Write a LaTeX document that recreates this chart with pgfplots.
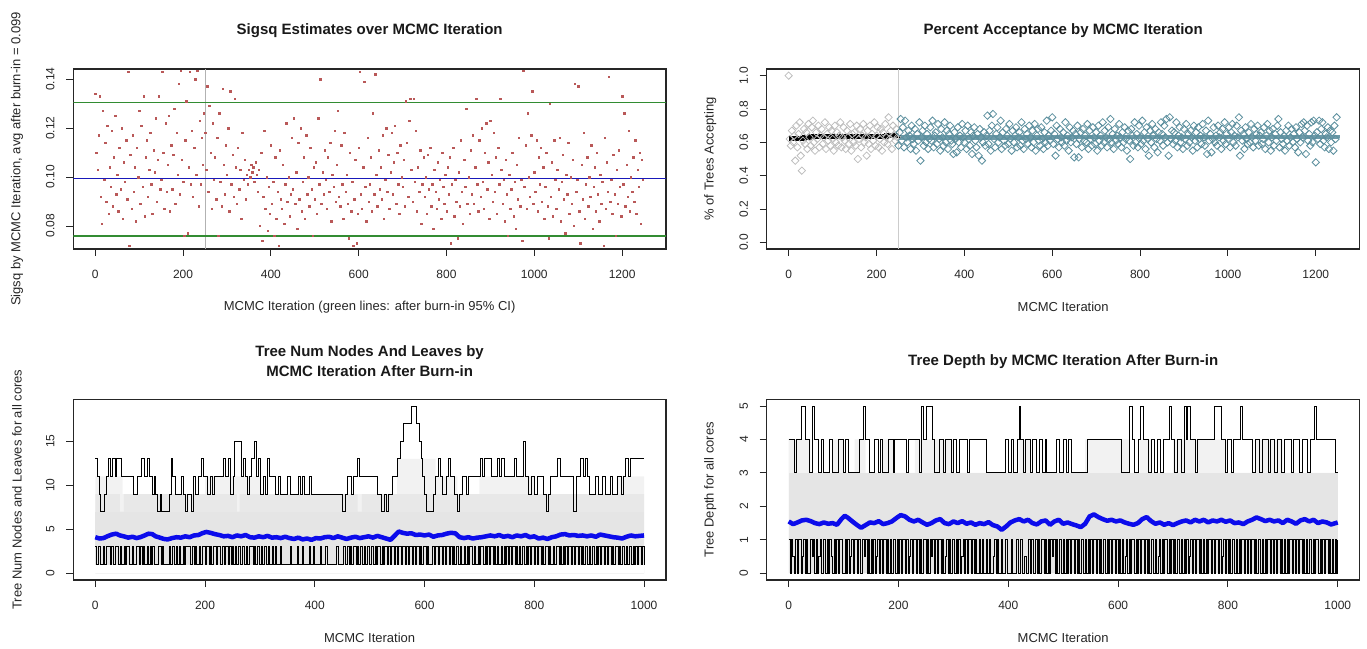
\documentclass[border=0pt]{standalone}
\usepackage{fontspec}
\setmainfont{Liberation Sans}
\usepackage{pgfplots}
\usepackage{pgfplotstable}
\pgfplotsset{compat=1.18}

\definecolor{sigred}{RGB}{185,88,88}
\definecolor{ablue}{RGB}{25,25,185}
\definecolor{agreen}{RGB}{50,140,50}
\definecolor{vgray}{RGB}{178,178,178}
\definecolor{pgray}{RGB}{188,188,188}
\definecolor{pteal}{RGB}{92,143,158}
\definecolor{band}{RGB}{229,229,229}
\definecolor{bandmd}{RGB}{232,232,232}
\definecolor{bandlt}{RGB}{242,242,242}
\definecolor{mblue}{RGB}{12,12,235}

% sigsq draws, one every 2.5 iterations
\pgfplotstableread[header=false,row sep=\\]{
0.134\\0.110\\0.103\\0.117\\0.133\\0.092\\0.081\\0.127\\0.099\\0.114\\
0.090\\0.121\\0.085\\0.104\\0.096\\0.119\\0.088\\0.108\\0.125\\0.093\\
0.101\\0.086\\0.112\\0.095\\0.120\\0.083\\0.106\\0.098\\0.115\\0.091\\
0.143\\0.072\\0.109\\0.087\\0.117\\0.094\\0.104\\0.082\\0.112\\0.100\\
0.127\\0.089\\0.121\\0.096\\0.133\\0.084\\0.108\\0.115\\0.092\\0.103\\
0.118\\0.097\\0.085\\0.111\\0.102\\0.124\\0.090\\0.107\\0.133\\0.095\\
0.099\\0.143\\0.110\\0.087\\0.122\\0.094\\0.105\\0.125\\0.086\\0.113\\
0.095\\0.109\\0.128\\0.089\\0.118\\0.101\\0.138\\0.093\\0.1435\\0.107\\
0.098\\0.076\\0.115\\0.131\\0.077\\0.104\\0.143\\0.097\\0.119\\0.092\\
0.112\\0.140\\0.101\\0.1435\\0.088\\0.123\\0.097\\0.116\\0.105\\0.126\\
0.118\\0.103\\0.137\\0.094\\0.129\\0.110\\0.087\\0.122\\0.099\\0.108\\
0.091\\0.116\\0.076\\0.126\\0.098\\0.088\\0.136\\0.105\\0.093\\0.113\\
0.101\\0.120\\0.086\\0.135\\0.097\\0.109\\0.092\\0.132\\0.104\\0.089\\
0.112\\0.095\\0.103\\0.083\\0.118\\0.099\\0.107\\0.091\\0.101\\0.097\\
0.103\\0.100\\0.105\\0.102\\0.104\\0.098\\0.106\\0.101\\0.094\\0.103\\
0.080\\0.110\\0.074\\0.092\\0.119\\0.087\\0.100\\0.078\\0.096\\0.085\\
0.113\\0.089\\0.098\\0.076\\0.108\\0.083\\0.094\\0.072\\0.111\\0.091\\
0.087\\0.105\\0.081\\0.097\\0.122\\0.090\\0.100\\0.084\\0.093\\0.116\\
0.095\\0.124\\0.089\\0.102\\0.079\\0.114\\0.091\\0.120\\0.086\\0.098\\
0.108\\0.083\\0.117\\0.093\\0.100\\0.088\\0.112\\0.095\\0.076\\0.104\\
0.091\\0.106\\0.085\\0.124\\0.097\\0.140\\0.089\\0.102\\0.093\\0.111\\
0.099\\0.087\\0.108\\0.094\\0.114\\0.082\\0.101\\0.096\\0.119\\0.090\\
0.105\\0.127\\0.092\\0.088\\0.113\\0.097\\0.083\\0.118\\0.094\\0.101\\
0.089\\0.075\\0.110\\0.086\\0.098\\0.072\\0.091\\0.107\\0.073\\0.085\\
0.112\\0.143\\0.093\\0.087\\0.104\\0.139\\0.096\\0.082\\0.116\\0.090\\
0.097\\0.108\\0.086\\0.126\\0.093\\0.142\\0.101\\0.088\\0.111\\0.095\\
0.104\\0.091\\0.117\\0.083\\0.099\\0.120\\0.094\\0.109\\0.087\\0.102\\
0.118\\0.093\\0.106\\0.121\\0.089\\0.110\\0.097\\0.085\\0.113\\0.100\\
0.096\\0.107\\0.088\\0.131\\0.114\\0.092\\0.123\\0.132\\0.103\\0.090\\
0.132\\0.098\\0.119\\0.086\\0.104\\0.094\\0.111\\0.081\\0.097\\0.108\\
0.092\\0.100\\0.085\\0.109\\0.095\\0.112\\0.088\\0.097\\0.079\\0.103\\
0.094\\0.087\\0.106\\0.091\\0.099\\0.083\\0.110\\0.096\\0.089\\0.101\\
0.086\\0.104\\0.093\\0.108\\0.073\\0.097\\0.112\\0.084\\0.099\\0.090\\
0.075\\0.102\\0.088\\0.115\\0.094\\0.081\\0.107\\0.096\\0.128\\0.089\\
0.100\\0.085\\0.111\\0.093\\0.117\\0.089\\0.104\\0.132\\0.097\\0.086\\
0.115\\0.092\\0.120\\0.098\\0.087\\0.110\\0.122\\0.095\\0.106\\0.083\\
0.123\\0.101\\0.090\\0.118\\0.094\\0.108\\0.085\\0.112\\0.097\\0.132\\
0.103\\0.089\\0.099\\0.082\\0.107\\0.093\\0.076\\0.101\\0.087\\0.095\\
0.110\\0.084\\0.098\\0.079\\0.105\\0.091\\0.116\\0.088\\0.099\\0.074\\
0.1435\\0.096\\0.113\\0.087\\0.126\\0.100\\0.092\\0.117\\0.135\\0.089\\
0.102\\0.094\\0.115\\0.086\\0.108\\0.097\\0.112\\0.090\\0.104\\0.083\\
0.096\\0.110\\0.088\\0.075\\0.130\\0.092\\0.106\\0.084\\0.115\\0.099\\
0.087\\0.103\\0.095\\0.116\\0.082\\0.098\\0.109\\0.091\\0.077\\0.101\\
0.093\\0.114\\0.085\\0.100\\0.089\\0.107\\0.080\\0.138\\0.094\\0.099\\
0.137\\0.086\\0.073\\0.105\\0.091\\0.118\\0.083\\0.097\\0.108\\0.088\\
0.100\\0.092\\0.113\\0.079\\0.096\\0.104\\0.086\\0.110\\0.093\\0.082\\
0.101\\0.089\\0.098\\0.072\\0.116\\0.087\\0.106\\0.094\\0.141\\0.090\\
0.099\\0.085\\0.109\\0.093\\0.076\\0.103\\0.089\\0.111\\0.096\\0.084\\
0.133\\0.097\\0.126\\0.088\\0.105\\0.092\\0.119\\0.086\\0.100\\0.094\\
0.108\\0.090\\0.115\\0.085\\0.103\\0.096\\0.110\\0.081\\0.107\\0.099\\
}\sigsqtab

% acceptance, burn-in (0-247.5) and after burn-in (250-1247.5), step 2.5
\pgfplotstableread[header=false,row sep=\\]{
1.00\\0.62\\0.58\\0.67\\0.60\\0.64\\0.49\\0.70\\0.57\\0.65\\
0.72\\0.52\\0.43\\0.61\\0.68\\0.59\\0.66\\0.56\\0.71\\0.63\\
0.58\\0.69\\0.73\\0.60\\0.55\\0.66\\0.62\\0.70\\0.57\\0.64\\
0.68\\0.59\\0.63\\0.72\\0.56\\0.65\\0.61\\0.69\\0.58\\0.67\\
0.62\\0.55\\0.70\\0.60\\0.66\\0.58\\0.64\\0.72\\0.57\\0.63\\
0.69\\0.61\\0.56\\0.67\\0.63\\0.59\\0.71\\0.55\\0.65\\0.60\\
0.66\\0.58\\0.70\\0.50\\0.62\\0.68\\0.57\\0.64\\0.71\\0.60\\
0.63\\0.52\\0.67\\0.59\\0.70\\0.56\\0.65\\0.61\\0.72\\0.58\\
0.64\\0.69\\0.57\\0.62\\0.68\\0.55\\0.66\\0.60\\0.71\\0.63\\
0.59\\0.75\\0.62\\0.67\\0.56\\0.70\\0.64\\0.61\\0.68\\0.63\\
}\accburn

\pgfplotstableread[header=false,row sep=\\]{
0.58\\0.66\\0.74\\0.61\\0.69\\0.57\\0.73\\0.63\\0.60\\0.67\\
0.64\\0.56\\0.70\\0.62\\0.59\\0.68\\0.55\\0.65\\0.61\\0.72\\
0.49\\0.63\\0.67\\0.58\\0.70\\0.60\\0.65\\0.56\\0.62\\0.69\\
0.61\\0.73\\0.57\\0.64\\0.66\\0.59\\0.71\\0.62\\0.55\\0.68\\
0.63\\0.58\\0.72\\0.60\\0.67\\0.56\\0.65\\0.70\\0.61\\0.59\\
0.53\\0.66\\0.62\\0.54\\0.69\\0.60\\0.64\\0.57\\0.71\\0.63\\
0.60\\0.67\\0.56\\0.70\\0.62\\0.58\\0.66\\0.53\\0.64\\0.69\\
0.61\\0.57\\0.65\\0.52\\0.68\\0.63\\0.49\\0.60\\0.66\\0.58\\
0.64\\0.76\\0.59\\0.67\\0.55\\0.70\\0.77\\0.62\\0.57\\0.65\\
0.69\\0.60\\0.63\\0.73\\0.56\\0.66\\0.61\\0.58\\0.68\\0.64\\
0.59\\0.71\\0.62\\0.55\\0.67\\0.60\\0.64\\0.69\\0.57\\0.63\\
0.66\\0.58\\0.72\\0.61\\0.56\\0.68\\0.62\\0.65\\0.59\\0.70\\
0.63\\0.57\\0.67\\0.60\\0.71\\0.55\\0.64\\0.68\\0.61\\0.58\\
0.69\\0.62\\0.56\\0.66\\0.60\\0.73\\0.58\\0.64\\0.61\\0.67\\
0.75\\0.59\\0.65\\0.52\\0.70\\0.62\\0.57\\0.68\\0.63\\0.60\\
0.66\\0.58\\0.72\\0.61\\0.64\\0.55\\0.69\\0.60\\0.63\\0.67\\
0.51\\0.65\\0.59\\0.70\\0.51\\0.62\\0.66\\0.57\\0.68\\0.61\\
0.64\\0.60\\0.71\\0.56\\0.67\\0.62\\0.58\\0.69\\0.63\\0.59\\
0.66\\0.55\\0.70\\0.61\\0.64\\0.58\\0.72\\0.60\\0.67\\0.63\\
0.57\\0.69\\0.62\\0.74\\0.60\\0.65\\0.56\\0.68\\0.61\\0.64\\
0.59\\0.71\\0.63\\0.57\\0.66\\0.60\\0.69\\0.62\\0.55\\0.67\\
0.61\\0.50\\0.68\\0.64\\0.58\\0.72\\0.60\\0.65\\0.57\\0.70\\
0.63\\0.59\\0.73\\0.61\\0.66\\0.56\\0.69\\0.62\\0.52\\0.67\\
0.60\\0.71\\0.64\\0.57\\0.68\\0.62\\0.54\\0.66\\0.61\\0.72\\
0.65\\0.58\\0.70\\0.63\\0.74\\0.60\\0.52\\0.75\\0.62\\0.67\\
0.59\\0.66\\0.61\\0.72\\0.57\\0.64\\0.69\\0.60\\0.63\\0.56\\
0.68\\0.62\\0.71\\0.58\\0.65\\0.60\\0.67\\0.63\\0.55\\0.70\\
0.61\\0.66\\0.57\\0.69\\0.62\\0.64\\0.59\\0.71\\0.63\\0.58\\
0.67\\0.53\\0.73\\0.61\\0.65\\0.54\\0.62\\0.69\\0.60\\0.64\\
0.58\\0.70\\0.63\\0.66\\0.56\\0.68\\0.61\\0.72\\0.59\\0.65\\
0.62\\0.69\\0.57\\0.66\\0.71\\0.60\\0.64\\0.58\\0.70\\0.63\\
0.75\\0.52\\0.67\\0.61\\0.65\\0.56\\0.69\\0.62\\0.59\\0.66\\
0.60\\0.71\\0.63\\0.57\\0.68\\0.61\\0.65\\0.70\\0.58\\0.64\\
0.66\\0.59\\0.62\\0.69\\0.56\\0.64\\0.71\\0.60\\0.67\\0.55\\
0.63\\0.68\\0.58\\0.65\\0.61\\0.70\\0.74\\0.57\\0.66\\0.62\\
0.59\\0.64\\0.55\\0.67\\0.61\\0.70\\0.58\\0.63\\0.68\\0.60\\
0.65\\0.57\\0.69\\0.62\\0.54\\0.66\\0.60\\0.71\\0.63\\0.72\\
0.67\\0.53\\0.70\\0.61\\0.65\\0.58\\0.72\\0.60\\0.73\\0.64\\
0.48\\0.66\\0.62\\0.73\\0.59\\0.68\\0.72\\0.61\\0.57\\0.65\\
0.63\\0.69\\0.56\\0.67\\0.60\\0.66\\0.55\\0.70\\0.62\\0.75\\
}\accpost

% min num nodes+leaves, step 2.5
\pgfplotstableread[header=false,row sep=\\]{
3\\1\\3\\3\\1\\1\\3\\1\\3\\3\\3\\1\\3\\1\\1\\3\\3\\1\\3\\1\\
1\\3\\1\\3\\3\\1\\1\\3\\1\\1\\3\\3\\1\\3\\1\\3\\1\\1\\3\\1\\
3\\1\\3\\1\\1\\1\\3\\3\\1\\3\\1\\1\\1\\1\\3\\1\\3\\3\\1\\3\\
1\\3\\1\\1\\3\\1\\3\\3\\3\\1\\1\\3\\1\\3\\1\\1\\3\\1\\3\\3\\
1\\3\\3\\1\\3\\1\\3\\3\\1\\3\\3\\1\\1\\3\\1\\3\\3\\1\\3\\1\\
3\\1\\3\\1\\3\\3\\1\\3\\3\\1\\3\\1\\3\\3\\3\\1\\3\\1\\3\\3\\
1\\3\\1\\3\\3\\1\\3\\1\\1\\3\\1\\3\\1\\1\\1\\3\\1\\1\\1\\1\\
1\\1\\3\\1\\1\\1\\1\\3\\1\\1\\1\\3\\1\\1\\1\\1\\3\\1\\1\\3\\
1\\1\\1\\1\\3\\1\\1\\1\\3\\1\\1\\1\\1\\1\\1\\1\\3\\1\\1\\1\\
1\\3\\1\\1\\3\\1\\3\\1\\3\\3\\1\\3\\1\\3\\3\\1\\3\\1\\3\\3\\
1\\3\\3\\1\\3\\1\\3\\3\\1\\3\\1\\3\\3\\1\\3\\1\\3\\3\\1\\3\\
1\\3\\3\\1\\3\\3\\1\\3\\1\\3\\3\\1\\3\\1\\3\\3\\1\\3\\1\\3\\
3\\1\\3\\1\\1\\1\\3\\1\\3\\3\\1\\3\\3\\1\\3\\1\\3\\3\\1\\3\\
1\\3\\1\\3\\3\\1\\3\\1\\1\\3\\1\\3\\1\\3\\3\\1\\3\\1\\1\\3\\
1\\3\\3\\1\\3\\1\\3\\1\\3\\3\\1\\3\\1\\3\\1\\1\\3\\1\\3\\1\\
3\\1\\3\\1\\3\\3\\1\\3\\1\\3\\1\\3\\3\\1\\3\\1\\3\\1\\3\\3\\
1\\3\\1\\3\\3\\1\\3\\1\\3\\3\\1\\3\\1\\1\\3\\1\\3\\3\\1\\3\\
1\\3\\1\\3\\1\\3\\3\\1\\3\\1\\3\\3\\1\\3\\1\\3\\1\\3\\3\\1\\
3\\1\\3\\3\\1\\3\\1\\3\\1\\3\\3\\1\\3\\1\\3\\3\\1\\3\\1\\3\\
3\\1\\3\\1\\3\\3\\1\\3\\1\\3\\3\\1\\3\\1\\3\\1\\3\\3\\1\\3\\
1\\
}\nodemin

% min tree depth, step 2.5
\pgfplotstableread[header=false,row sep=\\]{
1\\0\\1\\0.5\\0\\1\\0\\1\\1\\0\\0.5\\1\\0\\1\\0\\0\\1\\0.5\\1\\0\\
1\\0\\0.5\\1\\0\\1\\1\\0\\1\\0\\1\\0.5\\0\\1\\0\\1\\0\\1\\1\\0\\
0\\1\\0\\1\\0\\0.5\\1\\0\\1\\1\\0\\1\\0\\0\\1\\0.5\\1\\0\\1\\0\\
1\\0\\1\\0\\0.5\\1\\0\\1\\0\\1\\1\\0\\1\\0\\1\\0\\1\\1\\0\\1\\
0\\1\\0\\1\\1\\0\\1\\0\\0.5\\1\\0\\1\\1\\0\\1\\0\\1\\0\\1\\1\\
0\\1\\0\\1\\0.5\\1\\0\\1\\0\\1\\1\\0\\1\\0\\0.5\\1\\0\\1\\0\\1\\
1\\0\\1\\0\\1\\0\\0.5\\1\\0\\1\\0\\1\\1\\0\\1\\0\\1\\0\\0\\1\\
0\\1\\0\\0\\1\\0\\1\\0\\0\\0.5\\1\\0\\1\\0\\0\\1\\0\\0\\1\\0\\
0\\0\\1\\0\\0\\0\\1\\0\\0\\1\\0\\0\\0.5\\0\\0\\1\\0\\1\\0\\0\\
1\\0\\1\\0\\1\\1\\0\\1\\0\\1\\0\\1\\0.5\\1\\0\\1\\0\\1\\1\\0\\
1\\0\\1\\0\\1\\0\\1\\1\\0\\1\\0\\1\\0\\1\\1\\0\\1\\0\\1\\0\\
1\\0\\1\\1\\0\\1\\0\\1\\0\\1\\1\\0\\1\\0\\1\\0\\1\\1\\0\\1\\
0\\1\\0\\1\\0\\0.5\\1\\0\\1\\0\\1\\1\\0\\1\\0\\1\\0\\1\\1\\0\\
1\\0\\1\\0\\1\\1\\0\\1\\0\\0.5\\1\\0\\1\\0\\1\\1\\0\\1\\0\\1\\
0\\1\\0\\1\\1\\0\\1\\0\\1\\0\\1\\0\\0.5\\1\\0\\1\\0\\1\\1\\0\\
1\\0\\1\\0\\1\\0\\1\\1\\0\\1\\0\\1\\1\\0\\1\\0\\0.5\\1\\0\\1\\
0\\1\\0\\1\\1\\0\\1\\0\\1\\0\\1\\1\\0\\1\\0\\1\\0\\1\\1\\0\\
1\\0\\1\\1\\0\\1\\0\\1\\0\\1\\1\\0\\1\\0\\1\\0\\1\\1\\0\\1\\
0\\1\\0\\1\\0\\1\\1\\0\\1\\0\\1\\0\\1\\1\\0\\1\\0\\1\\0\\1\\
1\\0\\1\\0\\1\\1\\0\\1\\0\\1\\0\\1\\1\\0\\1\\0\\1\\0\\1\\0\\
1\\
}\depthmin

\pgfplotsset{
  rplot/.style={
    scale only axis, width=593pt, height=180pt,
    enlargelimits=false,
    axis line style={line width=1.1pt, black!85},
    tick align=outside, tick pos=left, major tick length=7pt,
    every tick/.style={black!85, line width=0.9pt},
    /pgf/number format/assume math mode=true,
    /pgf/number format/1000 sep={},
    tick label style={font=\fontsize{12}{14}\selectfont, text=black!85, inner sep=0pt},
    xticklabel style={anchor=north},
    xticklabel shift=13.5pt,
    yticklabel style={rotate=90, anchor=south},
    yticklabel shift=11.5pt,
    label style={font=\fontsize{13}{15}\selectfont, text=black!85},
    xlabel style={at={(axis description cs:0.5,0)}, anchor=center, yshift=-58pt},
    ylabel style={at={(axis description cs:-0.095,0.5)}, anchor=center},
    title style={at={(axis description cs:0.5,1)}, anchor=center, yshift=32pt,
      font=\bfseries\fontsize{15}{20}\selectfont, align=center, text=black!90},
  },
}

\begin{document}
\begin{tikzpicture}
\useasboundingbox (0,0) rectangle (1367pt,648pt);

% ---- sigsq ----
\begin{axis}[rplot, at={(73.3pt,399pt)}, anchor=south west, width=592.7pt,
  xmin=-50, xmax=1300, ymin=0.0706, ymax=0.1441,
  xtick={0,200,...,1200},
  ytick={0.08,0.10,0.12,0.14},
  yticklabel style={/pgf/number format/.cd, fixed, fixed zerofill, precision=2},
  title={Sigsq Estimates over MCMC Iteration},
  xlabel={MCMC Iteration (green lines: after burn-in 95\% CI)},
  ylabel={Sigsq by MCMC Iteration, avg after burn-in = 0.099}]
\addplot[only marks, mark=square*, mark size=0.72pt, sigred]
  table[x expr=\coordindex*2.5, y index=0] {\sigsqtab};
\addplot[vgray, line width=0.9pt] coordinates {(250,0.0706) (250,0.1441)};
\addplot[ablue, line width=1pt] coordinates {(-50,0.0992) (1300,0.0992)};
\addplot[agreen, line width=1.2pt] coordinates {(-50,0.0759) (1300,0.0759)};
\addplot[agreen, line width=1.2pt] coordinates {(-50,0.1303) (1300,0.1303)};
\end{axis}

% ---- acceptance ----
\begin{axis}[rplot, at={(766.7pt,399pt)}, anchor=south west,
  xmin=-50, xmax=1300, ymin=-0.04, ymax=1.04,
  xtick={0,200,...,1200},
  ytick={0,0.2,...,1.0},
  yticklabel style={/pgf/number format/.cd, fixed, fixed zerofill, precision=1},
  title={Percent Acceptance by MCMC Iteration},
  xlabel={MCMC Iteration},
  ylabel={\% of Trees Accepting}]
\addplot[only marks, mark=square, mark size=2.6pt, mark options={rotate=45, line width=0.75pt}, pgray]
  table[x expr=\coordindex*2.5, y index=0] {\accburn};
\addplot[only marks, mark=square, mark size=2.6pt, mark options={rotate=45, line width=0.8pt}, pteal]
  table[x expr=250+\coordindex*2.5, y index=0] {\accpost};
\addplot[const plot, pteal!90!white, line width=4.5pt] coordinates
  {(250,0.628) (400,0.630) (600,0.631) (800,0.633) (1000,0.632) (1250,0.630)};
\addplot[const plot, black, line width=5pt] coordinates
  {(0,0.622) (35,0.627) (48,0.632) (185,0.637) (222,0.643) (250,0.645)};
\addplot[gray!40, line width=1.6pt] coordinates {(250,-0.04) (250,1.04)};
\end{axis}

% ---- num nodes and leaves ----
\begin{axis}[rplot, at={(73.3pt,68pt)}, anchor=south west, width=592.7pt, height=180.7pt,
  xmin=-40, xmax=1040, ymin=-0.76, ymax=19.76,
  xtick={0,200,...,1000},
  ytick={0,5,10,15},
  title={Tree Num Nodes And Leaves by\\MCMC Iteration After Burn-in},
  xlabel={MCMC Iteration},
  ylabel={Tree Num Nodes and Leaves for all cores}]
\addplot[const plot, fill=bandlt, draw=none] coordinates
  {(0,11) (50,9) (200,11) (300,9) (550,13) (620,11) (660,9) (700,11) (800,9) (950,11) (1000,11)} \closedcycle;
\addplot[const plot, fill=bandmd, draw=none] coordinates
  {(0,9) (45,7) (52,9) (170,7) (176,9) (258,7) (263,9) (478,7) (486,9) (1000,9)} \closedcycle;
\addplot[fill=band, draw=none] coordinates {(0,7) (1000,7)} \closedcycle;
\addplot[fill=white, draw=none] coordinates {(0,1) (1000,1)} \closedcycle;
\addplot[const plot, black, line width=0.8pt]
  table[x expr=\coordindex*2.5, y index=0] {\nodemin};
\addplot[const plot, black, line width=0.9pt] coordinates {
(0,13) (4,11) (7,9) (10,7) (17,9) (20,11) (24,13) (28,11) (31,13) (36,11) (38,13) (48,11)
(62,11) (70,9) (76,11) (84,13) (90,11) (96,13) (99,11) (104,9) (108,11) (110,9) (114,7)
(118,9) (121,7) (135,9) (138,13) (140,11) (147,9) (157,11) (161,9) (165,7) (168,9) (176,7)
(179,11) (183,9) (188,11) (194,13) (198,11) (205,9) (210,11) (214,9) (217,11) (233,13)
(237,11) (242,13) (246,9) (251,11) (254,15) (266,11) (270,13) (274,11) (278,9) (281,11)
(285,13) (290,15) (293,11) (297,13) (301,9) (306,11) (310,9) (314,13) (318,11) (328,9)
(333,11) (338,9) (350,11) (356,9) (370,11) (373,9) (378,11) (382,9) (390,11) (394,9)
(451,7) (455,9) (460,11) (466,9) (470,11) (478,13) (482,11) (514,9) (522,7) (527,9)
(531,7) (535,9) (542,11) (551,13) (557,15) (562,17) (576,19) (586,17) (591,15) (594,13)
(597,11) (600,9) (604,7) (616,9) (620,11) (625,13) (629,11) (633,9) (640,11) (644,13)
(648,11) (655,9) (660,7) (664,9) (670,11) (676,9) (680,11) (702,13) (706,11) (710,13)
(722,11) (733,13) (737,11) (741,13) (746,11) (764,13) (768,11) (780,15) (783,11) (790,9)
(795,11) (800,9) (805,11) (816,9) (822,7) (826,9) (830,11) (843,13) (848,11) (872,7)
(876,11) (885,13) (889,11) (893,13) (897,11) (901,9) (912,11) (916,9) (924,11) (930,9)
(939,11) (943,9) (951,11) (958,9) (962,11) (967,13) (972,11) (976,13) (1000,13)};
\addplot[mblue, line width=4.5pt, line join=round] coordinates {
(0,4.1) (8,3.95) (15,4.0) (22,4.2) (30,4.4) (38,4.5) (45,4.3) (52,4.2) (60,4.05) (68,4.15)
(75,4.0) (82,4.1) (90,4.3) (97,4.5) (104,4.45) (110,4.2) (118,4.05) (125,3.9) (132,3.85)
(140,4.0) (148,4.1) (156,4.05) (164,4.2) (172,4.1) (180,4.3) (188,4.35) (195,4.55) (202,4.7)
(210,4.6) (218,4.45) (226,4.35) (234,4.2) (242,4.25) (250,4.1) (258,4.3) (266,4.2) (274,4.35)
(282,4.1) (290,4.05) (298,4.2) (306,4.1) (314,4.25) (322,4.05) (330,4.1) (338,4.0) (346,4.15)
(354,4.0) (362,3.9) (370,4.05) (378,3.85) (386,3.95) (394,3.8) (402,4.0) (410,3.95) (418,4.1)
(426,4.15) (434,4.0) (442,4.2) (450,4.05) (458,3.9) (466,4.05) (474,4.15) (482,4.0) (490,4.1)
(498,4.2) (506,4.05) (514,4.25) (522,4.1) (530,3.95) (538,3.8) (546,4.3) (553,4.75) (560,4.6)
(568,4.5) (576,4.55) (584,4.35) (592,4.4) (600,4.3) (608,4.4) (616,4.15) (624,4.3) (632,4.35)
(640,4.5) (648,4.6) (656,4.55) (664,4.1) (672,4.0) (680,4.1) (688,3.95) (696,4.05) (704,4.1)
(712,4.2) (720,4.3) (728,4.2) (736,4.35) (744,4.15) (752,4.25) (760,4.1) (768,4.3) (776,4.2)
(784,4.35) (792,4.1) (800,4.2) (808,3.95) (816,4.05) (824,3.9) (832,4.1) (840,4.2) (848,4.4)
(856,4.45) (864,4.3) (872,4.35) (880,4.25) (888,4.3) (896,4.2) (904,4.3) (912,4.15) (920,4.4)
(928,4.3) (936,4.2) (944,4.1) (952,4.05) (960,3.95) (968,4.15) (976,4.3) (984,4.2) (992,4.25)
(1000,4.3)};
\end{axis}

% ---- tree depth ----
\begin{axis}[rplot, at={(766.7pt,68pt)}, anchor=south west, height=180.7pt,
  xmin=-40, xmax=1040, ymin=-0.2, ymax=5.2,
  xtick={0,200,...,1000},
  ytick={0,1,...,5},
  title={Tree Depth by MCMC Iteration After Burn-in},
  xlabel={MCMC Iteration},
  ylabel={Tree Depth for all cores}]
\addplot[const plot, fill=bandlt, draw=none] coordinates
  {(0,4) (40,3) (80,4) (100,3) (120,4) (140,3) (170,4) (190,3) (230,4) (300,3) (420,4) (440,3)
   (540,4) (620,3) (640,4) (660,3) (700,4) (800,3) (850,4) (900,3) (1000,3)} \closedcycle;
\addplot[fill=band, draw=none] coordinates {(0,3) (1000,3)} \closedcycle;
\addplot[const plot, black, line width=0.8pt]
  table[x expr=\coordindex*2.5, y index=0] {\depthmin};
\addplot[const plot, black, line width=0.9pt] coordinates {
(0,4) (10,3) (14,4) (24,5) (30,4) (37,3) (44,5) (47,4) (55,3) (59,4) (64,3) (74,4) (79,3)
(91,4) (99,3) (103,4) (108,3) (129,4) (137,5) (139,4) (148,3) (157,4) (163,3) (168,4)
(171,3) (182,4) (190,3) (193,4) (214,3) (219,4) (238,3) (241,5) (245,4) (251,5) (261,4)
(266,3) (274,4) (282,3) (285,4) (296,3) (300,4) (305,3) (311,4) (326,3) (330,4) (361,3)
(395,4) (400,3) (405,4) (410,3) (416,4) (420,5) (422,4) (427,3) (432,4) (440,3) (444,4)
(451,3) (456,4) (462,3) (467,4) (470,3) (487,4) (493,3) (500,4) (505,3) (510,4) (515,3)
(545,4) (606,3) (620,5) (626,4) (630,3) (637,4) (641,5) (646,4) (655,3) (660,4) (666,3)
(672,4) (677,3) (682,4) (694,5) (697,4) (703,3) (708,4) (716,3) (720,5) (724,4) (727,5)
(731,4) (740,3) (744,4) (775,5) (789,4) (795,3) (800,4) (806,3) (810,4) (823,5) (826,4)
(845,3) (850,4) (858,3) (862,4) (873,3) (878,4) (885,3) (890,4) (898,3) (903,4) (915,3)
(920,4) (930,3) (935,4) (945,3) (950,4) (958,5) (961,4) (995,3) (1000,3)};
\addplot[mblue, line width=4.5pt, line join=round] coordinates {
(0,1.55) (8,1.47) (16,1.52) (24,1.58) (32,1.6) (40,1.56) (48,1.5) (56,1.47) (64,1.52) (72,1.48)
(80,1.5) (88,1.45) (96,1.62) (102,1.72) (108,1.66) (116,1.55) (124,1.45) (132,1.36) (140,1.44)
(148,1.52) (156,1.5) (164,1.56) (172,1.47) (180,1.5) (188,1.55) (196,1.65) (204,1.74) (212,1.7)
(220,1.6) (228,1.55) (236,1.6) (244,1.52) (252,1.45) (260,1.5) (268,1.58) (276,1.62) (284,1.5)
(292,1.47) (300,1.55) (308,1.5) (316,1.56) (324,1.48) (332,1.52) (340,1.45) (348,1.5) (356,1.47)
(364,1.53) (372,1.44) (380,1.4) (388,1.3) (396,1.4) (404,1.52) (412,1.58) (420,1.62) (428,1.55)
(436,1.6) (444,1.5) (452,1.46) (460,1.55) (468,1.58) (476,1.45) (484,1.55) (492,1.6) (500,1.48)
(508,1.52) (516,1.47) (524,1.43) (532,1.38) (540,1.48) (548,1.7) (556,1.76) (564,1.68) (572,1.62)
(580,1.57) (588,1.6) (596,1.55) (604,1.58) (612,1.52) (620,1.48) (628,1.45) (636,1.5) (644,1.62)
(652,1.68) (660,1.56) (668,1.48) (676,1.52) (684,1.45) (692,1.5) (700,1.44) (708,1.5) (716,1.55)
(724,1.58) (732,1.52) (740,1.6) (748,1.55) (756,1.6) (764,1.52) (772,1.58) (780,1.55) (788,1.6)
(796,1.54) (804,1.58) (812,1.5) (820,1.52) (828,1.47) (836,1.55) (844,1.6) (852,1.67) (860,1.62)
(868,1.56) (876,1.6) (884,1.55) (892,1.58) (900,1.5) (908,1.6) (916,1.55) (924,1.48) (932,1.58)
(940,1.62) (948,1.55) (956,1.6) (964,1.5) (972,1.55) (980,1.52) (988,1.46) (996,1.5) (1000,1.52)};
\end{axis}
\end{tikzpicture}
\end{document}
